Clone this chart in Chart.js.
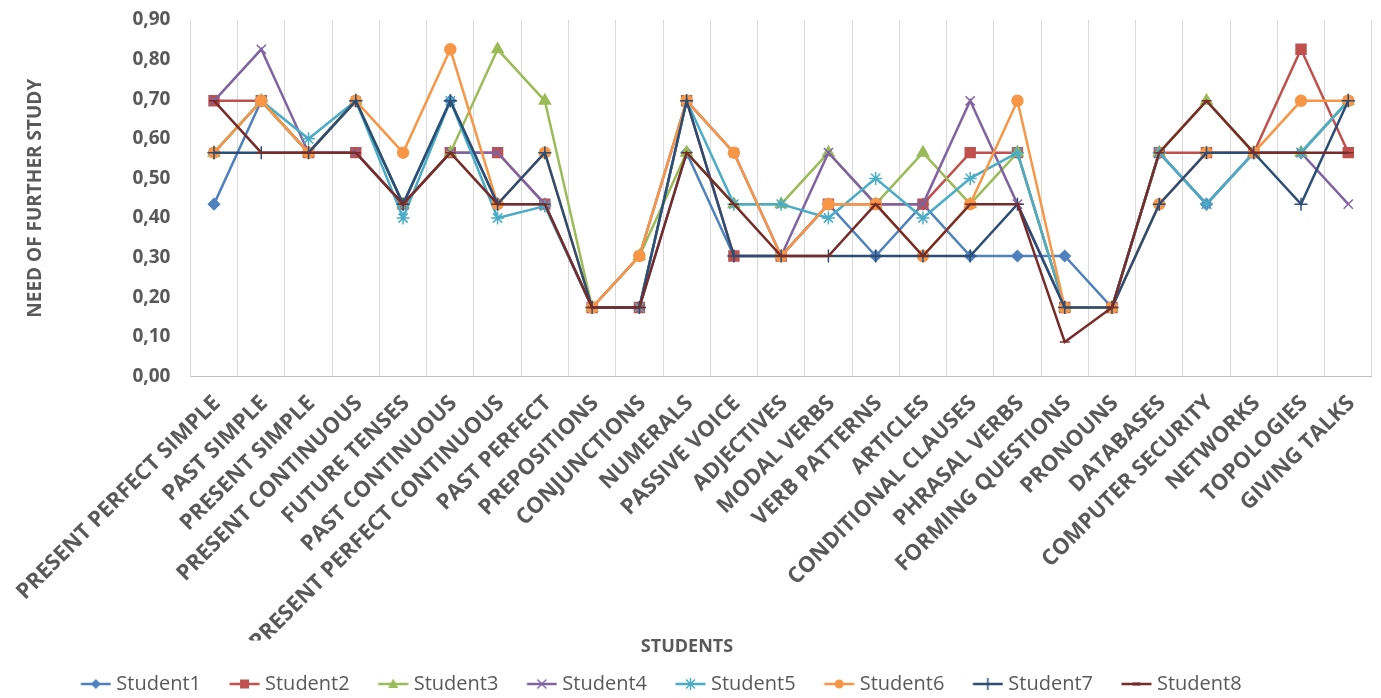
<!DOCTYPE html>
<html>
<head>
<meta charset="utf-8">
<script src="https://cdn.jsdelivr.net/npm/chart.js@4.4.1/dist/chart.umd.min.js"></script>
<style>
  html, body { margin: 0; padding: 0; background: #ffffff; }
  #wrap { width: 1381px; height: 698px; position: relative; }
</style>
</head>
<body>
<div id="wrap"><canvas id="chart"></canvas></div>
<script>
// Grammar / skill topics on the category axis
const topics = [
  'PRESENT PERFECT SIMPLE', 'PAST SIMPLE', 'PRESENT SIMPLE', 'PRESENT CONTINUOUS',
  'FUTURE TENSES', 'PAST CONTINUOUS', 'PRESENT PERFECT CONTINUOUS', 'PAST PERFECT',
  'PREPOSITIONS', 'CONJUNCTIONS', 'NUMERALS', 'PASSIVE VOICE', 'ADJECTIVES',
  'MODAL VERBS', 'VERB PATTERNS', 'ARTICLES', 'CONDITIONAL CLAUSES', 'PHRASAL VERBS',
  'FORMING QUESTIONS', 'PRONOUNS', 'DATABASES', 'COMPUTER SECURITY', 'NETWORKS',
  'TOPOLOGIES', 'GIVING TALKS'
];

// Need of further study per student, one value per topic
const student1 = [0.435, 0.696, 0.565, 0.696, 0.435, 0.696, 0.435, 0.435, 0.174, 0.174, 0.565, 0.304, 0.304, 0.435, 0.304, 0.435, 0.304, 0.304, 0.304, 0.174, 0.565, 0.435, 0.565, 0.565, 0.696];
const student2 = [0.696, 0.696, 0.565, 0.565, 0.435, 0.565, 0.565, 0.435, 0.174, 0.174, 0.696, 0.304, 0.304, 0.435, 0.435, 0.435, 0.565, 0.565, 0.174, 0.174, 0.565, 0.565, 0.565, 0.826, 0.565];
const student3 = [0.565, 0.696, 0.565, 0.696, 0.435, 0.565, 0.826, 0.696, 0.174, 0.304, 0.565, 0.435, 0.435, 0.565, 0.435, 0.565, 0.435, 0.565, 0.174, 0.174, 0.565, 0.696, 0.565, 0.565, 0.696];
const student4 = [0.696, 0.826, 0.565, 0.565, 0.435, 0.565, 0.565, 0.435, 0.174, 0.304, 0.696, 0.565, 0.304, 0.565, 0.435, 0.435, 0.696, 0.435, 0.174, 0.174, 0.565, 0.435, 0.565, 0.565, 0.435];
const student5 = [0.565, 0.696, 0.600, 0.696, 0.400, 0.696, 0.400, 0.430, 0.174, 0.174, 0.696, 0.435, 0.435, 0.400, 0.500, 0.400, 0.500, 0.565, 0.174, 0.174, 0.565, 0.435, 0.565, 0.565, 0.696];
const student6 = [0.565, 0.696, 0.565, 0.696, 0.565, 0.826, 0.435, 0.565, 0.174, 0.304, 0.696, 0.565, 0.304, 0.435, 0.435, 0.304, 0.435, 0.696, 0.174, 0.174, 0.435, 0.565, 0.565, 0.696, 0.696];
const student7 = [0.565, 0.565, 0.565, 0.696, 0.435, 0.696, 0.435, 0.565, 0.174, 0.174, 0.696, 0.304, 0.304, 0.304, 0.304, 0.304, 0.304, 0.435, 0.174, 0.174, 0.435, 0.565, 0.565, 0.435, 0.696];
const student8 = [0.696, 0.565, 0.565, 0.565, 0.435, 0.565, 0.435, 0.435, 0.174, 0.174, 0.565, 0.435, 0.304, 0.304, 0.435, 0.304, 0.435, 0.435, 0.087, 0.174, 0.565, 0.696, 0.565, 0.565, 0.565];

const seriesNames = ['Student1', 'Student2', 'Student3', 'Student4', 'Student5', 'Student6', 'Student7', 'Student8'];
const seriesValues = [student1, student2, student3, student4, student5, student6, student7, student8];

// Value axis range
const yMin = 0;
const yMax = 0.9;
const yStep = 0.1;

// Styling
const colors = ['#4F81BD', '#C0504D', '#9BBB59', '#8064A2', '#4BACC6', '#F79646', '#2C4D75', '#772C2A'];
const markers = ['rectRot', 'rect', 'triangle', 'crossRot', 'star', 'circle', 'cross', 'line'];
const markerRadius = [5.5, 7, 6.5, 6.5, 6.5, 5.5, 6.5, 5];
const textColor = '#595959';
const fontFamily = "'Open Sans', 'DejaVu Sans', sans-serif";

// Small line-plus-marker swatch for the legend
function legendSwatch(color, style) {
  const c = document.createElement('canvas');
  c.width = 58; c.height = 16;
  const g = c.getContext('2d');
  const cx = 42.5, cy = 8, x0 = 27.5, x1 = 57.5;
  g.strokeStyle = color; g.fillStyle = color; g.lineWidth = 2.5; g.lineCap = 'butt';
  g.beginPath(); g.moveTo(x0, cy); g.lineTo(x1, cy); g.stroke();
  g.lineWidth = 1.5;
  g.beginPath();
  switch (style) {
    case 'rectRot':
      g.moveTo(cx, cy - 5); g.lineTo(cx + 5, cy); g.lineTo(cx, cy + 5); g.lineTo(cx - 5, cy); g.closePath(); g.fill();
      break;
    case 'rect':
      g.fillRect(cx - 4.5, cy - 4.5, 9, 9);
      break;
    case 'triangle':
      g.moveTo(cx, cy - 5.5); g.lineTo(cx + 5, cy + 4); g.lineTo(cx - 5, cy + 4); g.closePath(); g.fill();
      break;
    case 'crossRot':
      g.moveTo(cx - 4.5, cy - 4.5); g.lineTo(cx + 4.5, cy + 4.5);
      g.moveTo(cx + 4.5, cy - 4.5); g.lineTo(cx - 4.5, cy + 4.5); g.stroke();
      break;
    case 'star':
      g.moveTo(cx - 4.5, cy - 4.5); g.lineTo(cx + 4.5, cy + 4.5);
      g.moveTo(cx + 4.5, cy - 4.5); g.lineTo(cx - 4.5, cy + 4.5);
      g.moveTo(cx, cy - 6); g.lineTo(cx, cy + 6); g.stroke();
      break;
    case 'circle':
      g.arc(cx, cy, 4.5, 0, Math.PI * 2); g.fill();
      break;
    case 'cross':
      g.moveTo(cx, cy - 6); g.lineTo(cx, cy + 6); g.stroke();
      break;
    case 'line':
      g.lineWidth = 3; g.moveTo(cx - 4, cy); g.lineTo(cx + 4, cy); g.stroke();
      break;
  }
  return c;
}

const swatches = seriesNames.map((_, i) => legendSwatch(colors[i], markers[i]));

const datasets = seriesNames.map((name, i) => ({
  label: name,
  data: seriesValues[i],
  borderColor: colors[i],
  backgroundColor: colors[i],
  borderWidth: 2.5,
  pointStyle: markers[i],
  pointRadius: markerRadius[i],
  pointBorderWidth: 1.5,
  pointBorderColor: colors[i],
  pointBackgroundColor: colors[i],
  tension: 0,
  fill: false,
  order: seriesNames.length - i
}));

// Nudges the legend row and the axis caption into place after layout
const LEG_DX = -43;
const LEG_DY = 6;
const CAP_DX = -6;
const CAP_DY = -4;
const boxNudge = {
  id: 'boxNudge',
  afterLayout(chart) {
    const lg = chart.legend;
    if (lg) {
      lg.left += LEG_DX; lg.right += LEG_DX;
      lg.top += LEG_DY; lg.bottom += LEG_DY;
    }
    const tt = chart.titleBlock;
    if (tt) {
      tt.left += CAP_DX; tt.right += CAP_DX;
      tt.top += CAP_DY; tt.bottom += CAP_DY;
    }
  }
};

new Chart(document.getElementById('chart'), {
  type: 'line',
  data: { labels: topics, datasets },
  plugins: [boxNudge],
  options: {
    responsive: true,
    maintainAspectRatio: false,
    animation: false,
    devicePixelRatio: 1,
    layout: { autoPadding: false, padding: { left: 8, right: 3, top: 20, bottom: 0 } },
    plugins: {
      tooltip: { enabled: false },
      title: {
        display: true,
        position: 'bottom',
        weight: 500,
        text: 'STUDENTS',
        color: textColor,
        font: { family: fontFamily, size: 18, weight: 'bold' },
        padding: { top: 0, bottom: 0 }
      },
      legend: {
        position: 'bottom',
        align: 'center',
        labels: {
          usePointStyle: true,
          pointStyleWidth: 48,
          padding: 6,
          color: textColor,
          font: { family: fontFamily, size: 20 },
          generateLabels(chart) {
            return chart.data.datasets.map((ds, i) => ({
              text: ds.label,
              fillStyle: colors[i],
              strokeStyle: colors[i],
              lineWidth: 0,
              pointStyle: swatches[i],
              fontColor: textColor,
              hidden: false,
              datasetIndex: i
            }));
          }
        }
      }
    },
    scales: {
      x: {
        type: 'category',
        offset: true,
        grid: { offset: true, color: '#d9d9d9', lineWidth: 1, drawTicks: false },
        border: { color: '#bfbfbf' },
        ticks: {
          autoSkip: false,
          minRotation: 45,
          maxRotation: 45,
          padding: 14,
          labelOffset: 3,
          color: textColor,
          font: { family: fontFamily, size: 22, weight: 'bold' }
        },
        afterFit(scale) { scale.height = 264; }
      },
      y: {
        min: yMin,
        max: yMax,
        grid: { drawOnChartArea: false, drawTicks: false },
        border: { color: '#d9d9d9' },
        ticks: {
          stepSize: yStep,
          padding: 20,
          color: textColor,
          font: { family: fontFamily, size: 19, weight: 'bold' },
          callback: (v) => Number(v).toFixed(2).replace('.', ',')
        },
        title: {
          display: true,
          text: 'NEED OF FURTHER STUDY',
          color: textColor,
          font: { family: fontFamily, size: 19, weight: 'bold' },
          padding: { top: 16, bottom: 0 }
        },
        afterFit(scale) {
          scale.width = 182;
          // keep the top tick label from pushing the plot down
          scale.paddingTop = 12;
        }
      }
    }
  }
});
</script>
</body>
</html>
